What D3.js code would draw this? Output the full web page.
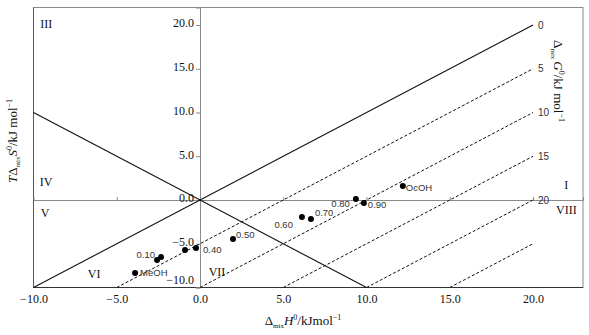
<!DOCTYPE html>
<html>
<head>
<meta charset="utf-8">
<script src="https://cdn.jsdelivr.net/npm/d3@7"></script>
<style>
  html, body { margin: 0; padding: 0; background: #fff; }
  svg { display: block; }
</style>
</head>
<body>
<svg id="chart" width="589" height="335"></svg>
<script>
// ---- data ----
const xTicks = [-10, -5, 0, 5, 10, 15, 20];
const yTicks = [-10, -5, 0, 5, 10, 15, 20];
const gLevels = [0, 5, 10, 15, 20, 25];
const gLabels = ["0", "5", "10", "15", "20", ""];
const pointIds = ["MeOH", "0.10", "0.20", "0.30", "0.40", "0.50", "0.60", "0.70", "0.80", "0.90", "OcOH"];
const pointShown = ["MeOH", "0.10", "", "", "0.40", "0.50", "0.60", "0.70", "0.80", "0.90", "OcOH"];
const dH = [-3.9, -2.58, -2.34, -0.9, -0.24, 1.98, 6.12, 6.66, 9.36, 9.84, 12.18];
const TdS = [-8.35, -6.86, -6.51, -5.71, -5.49, -4.46, -1.94, -2.17, 0.11, -0.34, 1.6];
const regionNames = ["III", "IV", "V", "VI", "VII", "I", "VIII"];
const regionH = [-9.24, -9.24, -9.3, -6.36, 1.02, 22.0, 22.0];
const regionS = [20.1, 2.06, -1.5, -8.46, -8.2, 1.7, -1.15];

// ---- layout ----
const svg = d3.select("#chart");
const L = 33.5, R = 583, T = 7.5, B = 287.5;
const x = d3.scaleLinear().domain([-10, 23]).range([L, R]);
const y = d3.scaleLinear().domain([-10, 22]).range([B, T]);
const serif = "'Liberation Serif','Times New Roman',serif";
const sans = "'Liberation Sans',Arial,sans-serif";

// frame
svg.append("rect").attr("x", L).attr("y", T).attr("width", R - L).attr("height", B - T)
  .attr("fill", "none").attr("stroke", "#8a8a8a").attr("stroke-width", 1);
svg.append("line").attr("x1", L).attr("x2", L).attr("y1", T).attr("y2", B).attr("stroke", "#555");
svg.append("line").attr("x1", L).attr("x2", R).attr("y1", B).attr("y2", B).attr("stroke", "#333").attr("stroke-width", 1.2);

// horizontal zero axis with ticks upward
const gx0 = svg.append("g").attr("transform", `translate(0,${y(0)})`)
  .call(d3.axisTop(x).tickValues(xTicks.filter(d => d > -10)).tickSize(3).tickFormat(""));
gx0.select(".domain").attr("stroke", "#8a8a8a");
gx0.selectAll(".tick line").attr("stroke", "#8a8a8a");

// vertical zero axis with labels
const gy = svg.append("g").attr("transform", `translate(${x(0)},0)`)
  .call(d3.axisLeft(y).tickValues(yTicks).tickSize(4).tickPadding(2).tickFormat(d3.format(".1f")));
gy.select(".domain").attr("stroke", "#8a8a8a");
gy.selectAll(".tick line").attr("stroke", "#8a8a8a");
gy.selectAll(".tick text").attr("font-family", serif).attr("font-size", 12).attr("fill", "#111")
  .attr("dy", d => d === -10 ? "-0.3em" : "0.15em");

// bottom labels
const gxb = svg.append("g").attr("transform", `translate(0,${B})`)
  .call(d3.axisBottom(x).tickValues(xTicks).tickSize(0).tickPadding(7).tickFormat(d3.format(".1f")));
gxb.select(".domain").remove();
gxb.selectAll(".tick text").attr("font-family", serif).attr("font-size", 12).attr("fill", "#111");

// Gibbs lines
gLevels.forEach((g, i) => {
  const h0 = g - 10, h1 = 20;
  svg.append("line")
    .attr("x1", x(h0)).attr("y1", y(h0 - g)).attr("x2", x(h1)).attr("y2", y(h1 - g))
    .attr("stroke", "#111").attr("stroke-width", g === 0 ? 1.1 : 1)
    .attr("stroke-dasharray", g === 0 ? null : "3,2");
  if (gLabels[i]) {
    svg.append("text").attr("x", x(20) + 5).attr("y", y(20 - g)).attr("dy", "0.35em")
      .attr("font-family", sans).attr("font-size", 10).attr("fill", "#333").text(gLabels[i]);
  }
});
// TdS = -dH line
svg.append("line").attr("x1", x(-10)).attr("y1", y(10)).attr("x2", x(10)).attr("y2", y(-10))
  .attr("stroke", "#111").attr("stroke-width", 1.1);

// points
const pts = pointIds.map((id, i) => ({ id, label: pointShown[i], h: dH[i], s: TdS[i] }));
svg.append("g").selectAll("circle").data(pts).join("circle")
  .attr("cx", d => x(d.h)).attr("cy", d => y(d.s)).attr("r", 3).attr("fill", "#000");

const labelPlace = {
  "MeOH": [5, 0, "start"], "0.10": [-2, -5, "end"], "0.40": [7, 2, "start"],
  "0.50": [3, -4, "start"], "0.60": [-9, 8, "end"], "0.70": [4, -6, "start"],
  "0.80": [-6, 5, "end"], "0.90": [4, 2, "start"], "OcOH": [3, 2, "start"]
};
svg.append("g").selectAll("text").data(pts.filter(d => d.label)).join("text")
  .attr("x", d => x(d.h) + labelPlace[d.label][0])
  .attr("y", d => y(d.s) + labelPlace[d.label][1])
  .attr("dy", "0.35em").attr("text-anchor", d => labelPlace[d.label][2])
  .attr("font-family", sans).attr("font-size", 9.5).attr("fill", "#333")
  .text(d => d.label);

// region numerals
svg.append("g").selectAll("text").data(regionNames).join("text")
  .attr("x", (d, i) => x(regionH[i])).attr("y", (d, i) => y(regionS[i]))
  .attr("dy", "0.35em").attr("text-anchor", "middle")
  .attr("font-family", serif).attr("font-size", 12).attr("fill", "#111").text(d => d);

// x title
const xt = svg.append("text").attr("x", 303).attr("y", 325).attr("text-anchor", "middle")
  .attr("font-family", serif).attr("font-size", 13).attr("fill", "#111");
xt.append("tspan").text("Δ");
xt.append("tspan").attr("font-size", 7).attr("dy", 3).text("mix");
xt.append("tspan").attr("font-style", "italic").attr("dy", -3).text("H");
xt.append("tspan").attr("font-size", 8).attr("dy", -5).text("0");
xt.append("tspan").attr("dy", 5).text("/kJmol");
xt.append("tspan").attr("font-size", 8).attr("dy", -5).text("−1");

// y title
const yt = svg.append("text").attr("transform", "translate(17,141) rotate(-90)").attr("text-anchor", "middle")
  .attr("font-family", serif).attr("font-size", 13).attr("fill", "#111");
yt.append("tspan").attr("font-style", "italic").text("T");
yt.append("tspan").text("Δ");
yt.append("tspan").attr("font-size", 7).attr("dy", 3).text("mix");
yt.append("tspan").attr("font-style", "italic").attr("dy", -3).text("S");
yt.append("tspan").attr("font-size", 8).attr("dy", -5).text("0");
yt.append("tspan").attr("dy", 5).text("/kJ mol");
yt.append("tspan").attr("font-size", 8).attr("dy", -5).text("−1");

// right title
const rt = svg.append("text").attr("transform", "translate(554,81) rotate(90)").attr("text-anchor", "middle")
  .attr("font-family", serif).attr("font-size", 13).attr("fill", "#111");
rt.append("tspan").text("Δ");
rt.append("tspan").attr("font-size", 7).attr("dy", 3).text("mix");
rt.append("tspan").attr("font-style", "italic").attr("dy", -3).attr("dx", 2).text("G");
rt.append("tspan").attr("font-size", 8).attr("dy", -5).text("0");
rt.append("tspan").attr("dy", 5).text("/kJ mol");
rt.append("tspan").attr("font-size", 8).attr("dy", -5).text("−1");
</script>
</body>
</html>
